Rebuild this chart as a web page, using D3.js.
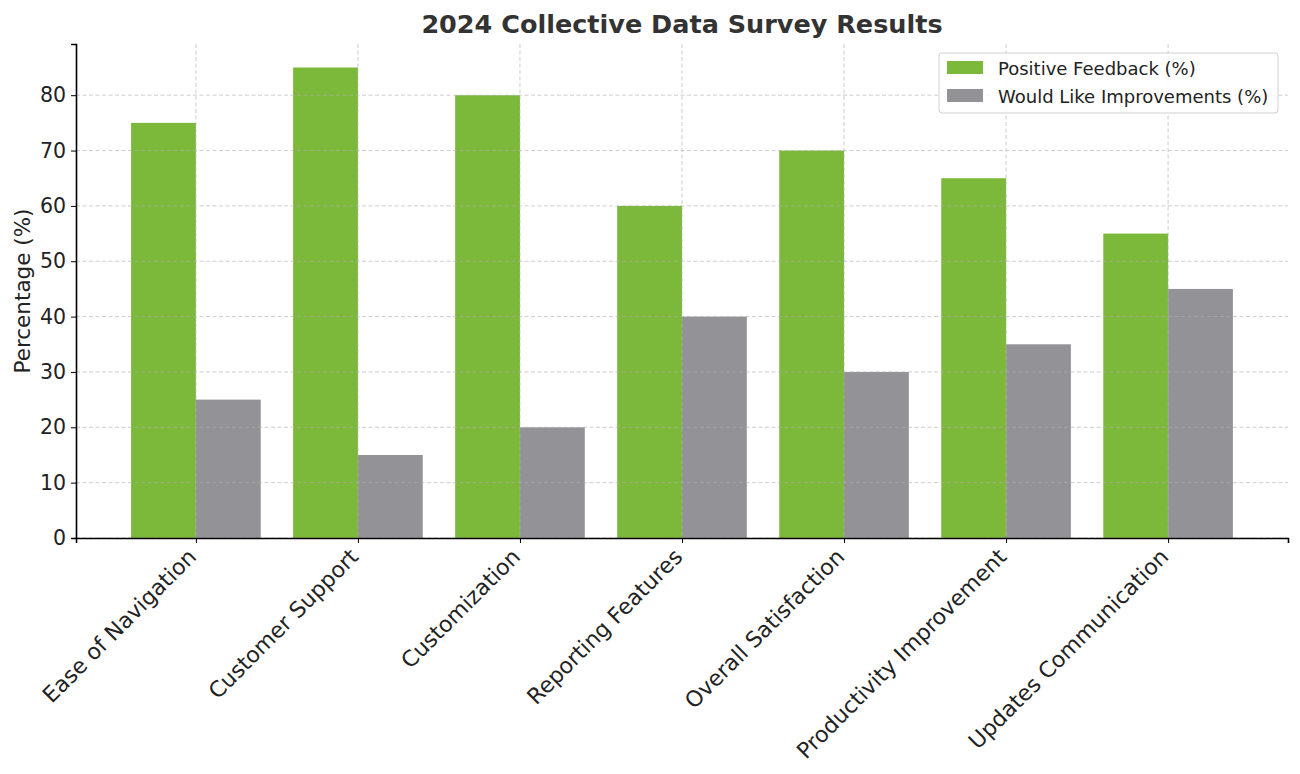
<!DOCTYPE html>
<html>
<head>
<meta charset="utf-8">
<script src="https://cdn.jsdelivr.net/npm/d3@7"></script>
<style>
  body { margin: 0; background: #fff; }
  svg, svg text { font-family: "DejaVu Sans", sans-serif; }
</style>
</head>
<body>
<svg></svg>
<script>
// Data
const categories = [
    'Ease of Navigation', 'Customer Support', 'Customization',
    'Reporting Features', 'Overall Satisfaction', 'Productivity Improvement',
    'Updates Communication'
];
const positiveFeedback = [75, 85, 80, 60, 70, 65, 55];
const wouldLikeImprovements = [25, 15, 20, 40, 30, 35, 45];
const seriesNames = ['Positive Feedback (%)', 'Would Like Improvements (%)'];
const yTicks = [0, 10, 20, 30, 40, 50, 60, 70, 80];

// Constants
const width = 1300;
const height = 774;
const plotLeft = 76, plotRight = 1288, plotTop = 44, plotBottom = 538;
const colors = ['#7cb83a', '#939397'];
const textColor = '#222';
const font = '"DejaVu Sans", sans-serif';

const svg = d3.select('svg')
    .attr('width', width)
    .attr('height', height);

// scales (bar width 0.4 each side of category center, 5% margins)
const n = categories.length;
const xMin = -0.4 - 0.05 * (n - 1 + 0.8);
const xMax = n - 1 + 0.4 + 0.05 * (n - 1 + 0.8);
const x = d3.scaleLinear().domain([xMin, xMax]).range([plotLeft, plotRight]);
const yMax = 85 * 1.05;
const y = d3.scaleLinear().domain([0, yMax]).range([plotBottom, plotTop]);

// bars
const series = [positiveFeedback, wouldLikeImprovements];
series.forEach((vals, s) => {
    svg.append('g').selectAll('rect')
        .data(vals).enter().append('rect')
        .attr('x', (d, i) => x(i - 0.4 + s * 0.4))
        .attr('width', x(0.4) - x(0))
        .attr('y', d => y(d))
        .attr('height', d => y(0) - y(d))
        .attr('fill', colors[s]);
});

// grid
const grid = svg.append('g')
    .attr('stroke', '#b0b0b0')
    .attr('stroke-opacity', 0.7)
    .attr('stroke-dasharray', '4,2.5')
    .attr('stroke-width', 0.9);
grid.selectAll('.h').data(yTicks).enter().append('line')
    .attr('x1', plotLeft).attr('x2', plotRight)
    .attr('y1', d => y(d)).attr('y2', d => y(d));
grid.selectAll('.v').data(categories).enter().append('line')
    .attr('y1', plotTop).attr('y2', plotBottom)
    .attr('x1', (d, i) => x(i)).attr('x2', (d, i) => x(i));

// yAxis
const yAxis = d3.axisLeft(y).tickValues(yTicks).tickSize(5).tickPadding(5);
const gy = svg.append('g')
    .attr('transform', `translate(${plotLeft}, 0)`)
    .attr('font-family', font)
    .call(yAxis);
gy.select('.domain').attr('stroke', '#000').attr('stroke-width', 1.6);
gy.selectAll('.tick line').attr('stroke', '#000');
gy.selectAll('.tick text').attr('font-size', 20.5).attr('fill', textColor);

// xAxis
const xAxis = d3.axisBottom(x)
    .tickValues(d3.range(n))
    .tickFormat(i => categories[i])
    .tickSize(5);
const gx = svg.append('g')
    .attr('transform', `translate(0, ${plotBottom})`)
    .attr('font-family', font)
    .call(xAxis);
gx.select('.domain').attr('stroke', '#000').attr('stroke-width', 1.6);
gx.selectAll('.tick line').attr('stroke', '#000');
gx.selectAll('.tick text')
    .attr('font-size', 22)
    .attr('fill', textColor)
    .attr('text-anchor', 'end')
    .attr('dy', null)
    .attr('y', 0)
    .attr('transform', 'translate(-3, 16) rotate(-45)')
    .attr('dominant-baseline', 'middle');

// y label
svg.append('text')
    .attr('transform', `translate(30, ${(plotTop + plotBottom) / 2}) rotate(-90)`)
    .attr('text-anchor', 'middle')
    .attr('font-size', 21.5)
    .attr('fill', textColor)
    .text('Percentage (%)');

// title
svg.append('text')
    .attr('x', (plotLeft + plotRight) / 2)
    .attr('y', 33)
    .attr('text-anchor', 'middle')
    .attr('font-size', 25.5)
    .attr('font-weight', 'bold')
    .attr('fill', '#333')
    .text('2024 Collective Data Survey Results');

// legend
const legend = svg.append('g')
    .attr('transform', 'translate(939, 53)');
legend.append('rect')
    .attr('width', 339)
    .attr('height', 60)
    .attr('rx', 3)
    .attr('fill', '#fff')
    .attr('fill-opacity', 0.85)
    .attr('stroke', '#d0d0d0');
const items = legend.selectAll('.item')
    .data(seriesNames).enter().append('g')
    .attr('transform', (d, i) => `translate(0, ${15 + i * 28})`);
items.append('rect')
    .attr('x', 8).attr('y', -7)
    .attr('width', 36).attr('height', 13)
    .attr('fill', (d, i) => colors[i]);
items.append('text')
    .attr('x', 59)
    .attr('y', 0)
    .attr('dominant-baseline', 'central')
    .attr('font-size', 18)
    .attr('fill', textColor)
    .text(d => d);
</script>
</body>
</html>
